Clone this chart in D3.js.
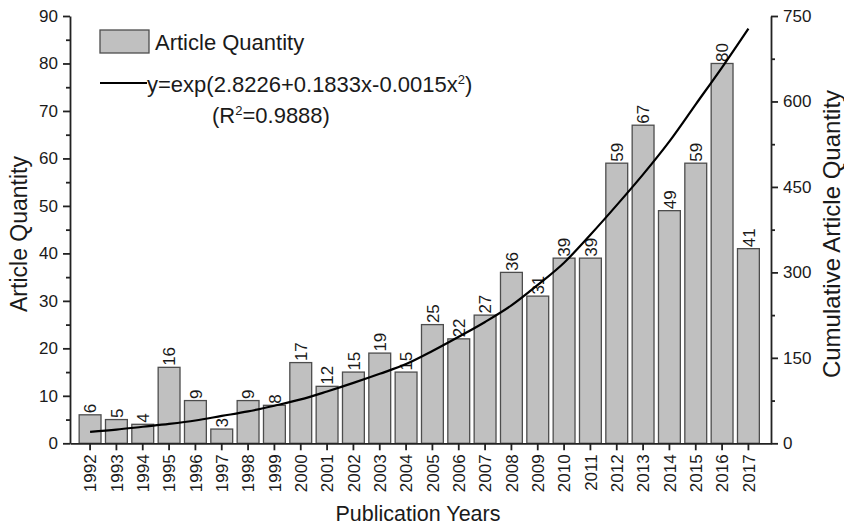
<!DOCTYPE html>
<html>
<head>
<meta charset="utf-8">
<script src="https://cdn.jsdelivr.net/npm/d3@7"></script>
<style>
  html, body { margin: 0; padding: 0; background: #fff; }
  svg { display: block; }
  text { font-family: "Liberation Sans", Arial, Helvetica, sans-serif; fill: #1a1a1a; }
</style>
</head>
<body>
<svg id="chart" width="844" height="526"></svg>
<script>
// ---- data ----
const years = ["1992","1993","1994","1995","1996","1997","1998","1999","2000","2001","2002","2003","2004",
               "2005","2006","2007","2008","2009","2010","2011","2012","2013","2014","2015","2016","2017"];
const articleQuantity = [6,5,4,16,9,3,9,8,17,12,15,19,15,25,22,27,36,31,39,39,59,67,49,59,80,41];
// fitted cumulative curve (right axis units)
const fitCumulative = [20,24,29,34,40,48,56,66,77,91,106,122,139,162,187,213,242,278,317,366,418,472,530,595,660,728];
const leftTicks = [0,10,20,30,40,50,60,70,80,90];
const leftMinorTicks = [5,15,25,35,45,55,65,75,85];
const rightTicks = [0,150,300,450,600,750];
const rightMinorTicks = [75,225,375,525,675];
const legendBarLabel = "Article Quantity";
const xTitle = "Publication Years";
const yLeftTitle = "Article Quantity";
const yRightTitle = "Cumulative Article Quantity";

// ---- layout ----
const svg = d3.select("#chart");
const X0 = 70, X1 = 771, Y0 = 443.3, Y1 = 16;
const axisColor = "#222";

const x = d3.scaleBand().domain(years).range([X0, X1])
  .paddingInner(0.17).paddingOuter(0.395).align(0.44);
const yL = d3.scaleLinear().domain([0, 90]).range([Y0, Y1]);
const yR = d3.scaleLinear().domain([0, 750]).range([Y0, Y1]);
const bw = x.bandwidth();

// bars
svg.append("g").selectAll("rect").data(articleQuantity).join("rect")
  .attr("x", (d, i) => x(years[i]))
  .attr("y", d => yL(d))
  .attr("width", bw)
  .attr("height", d => Y0 - yL(d))
  .attr("fill", "#c0c0c0")
  .attr("stroke", "#4d4d4d")
  .attr("stroke-width", 1.3);

// bar labels
svg.append("g").selectAll("text").data(articleQuantity).join("text")
  .attr("transform", (d, i) => `translate(${x(years[i]) + bw / 2},${yL(d) - 1.5}) rotate(-90)`)
  .attr("text-anchor", "start")
  .attr("dy", "0.36em")
  .style("font-size", "17px")
  .text(d => d);

// fitted curve
const line = d3.line()
  .x((d, i) => x(years[i]) + bw / 2)
  .y(d => yR(d))
  .curve(d3.curveMonotoneX);
svg.append("path").datum(fitCumulative)
  .attr("d", line)
  .attr("fill", "none")
  .attr("stroke", "#000")
  .attr("stroke-width", 2.2);

function styleAxis(g) {
  g.selectAll("path, line").attr("stroke", axisColor).attr("stroke-width", 1.8);
  g.selectAll("text").style("font-size", "17px").attr("fill", "#1a1a1a")
    .style("font-family", '"Liberation Sans", Arial, sans-serif');
}

// left axis
const gL = svg.append("g").attr("transform", `translate(${X0},0)`)
  .call(d3.axisLeft(yL).tickValues(leftTicks).tickSize(7).tickSizeOuter(0).tickPadding(5));
styleAxis(gL);
const gLm = svg.append("g").attr("transform", `translate(${X0},0)`)
  .call(d3.axisLeft(yL).tickValues(leftMinorTicks).tickSize(4).tickFormat(""));
gLm.select(".domain").remove();
styleAxis(gLm);

// right axis
const gR = svg.append("g").attr("transform", `translate(${X1},0)`)
  .call(d3.axisRight(yR).tickValues(rightTicks).tickSize(7).tickSizeOuter(0).tickPadding(5));
styleAxis(gR);
const gRm = svg.append("g").attr("transform", `translate(${X1},0)`)
  .call(d3.axisRight(yR).tickValues(rightMinorTicks).tickSize(4).tickFormat(""));
gRm.select(".domain").remove();
styleAxis(gRm);

// bottom axis
const gB = svg.append("g").attr("transform", `translate(0,${Y0})`)
  .call(d3.axisBottom(x).tickSize(7).tickSizeOuter(0));
styleAxis(gB);
gB.selectAll(".tick text")
  .attr("transform", "rotate(-90)")
  .attr("text-anchor", "end")
  .attr("x", -11)
  .attr("y", 0)
  .attr("dy", "0.36em");

// axis titles
svg.append("text").attr("x", 418).attr("y", 521)
  .attr("text-anchor", "middle").style("font-size", "21.5px").text(xTitle);
svg.append("text").attr("transform", `translate(27,234) rotate(-90)`)
  .attr("text-anchor", "middle").style("font-size", "23px").text(yLeftTitle);
svg.append("text").attr("transform", `translate(840,234) rotate(-90)`)
  .attr("text-anchor", "middle").style("font-size", "24px").text(yRightTitle);

// legend
const lg = svg.append("g");
lg.append("rect").attr("x", 100).attr("y", 30).attr("width", 49).attr("height", 23)
  .attr("fill", "#c0c0c0").attr("stroke", "#4d4d4d").attr("stroke-width", 1.3);
lg.append("text").attr("x", 155).attr("y", 50).style("font-size", "22px").text(legendBarLabel);
lg.append("line").attr("x1", 100).attr("x2", 147).attr("y1", 83).attr("y2", 83)
  .attr("stroke", "#000").attr("stroke-width", 2.2);
const eq = lg.append("text").attr("x", 147).attr("y", 92).style("font-size", "22px");
eq.append("tspan").text("y=exp(2.8226+0.1833x-0.0015x");
eq.append("tspan").attr("dy", -8).style("font-size", "13px").text("2");
eq.append("tspan").attr("dy", 8).text(")");
const r2 = lg.append("text").attr("x", 212).attr("y", 123).style("font-size", "22px");
r2.append("tspan").text("(R");
r2.append("tspan").attr("dy", -8).style("font-size", "13px").text("2");
r2.append("tspan").attr("dy", 8).text("=0.9888)");
</script>
</body>
</html>
